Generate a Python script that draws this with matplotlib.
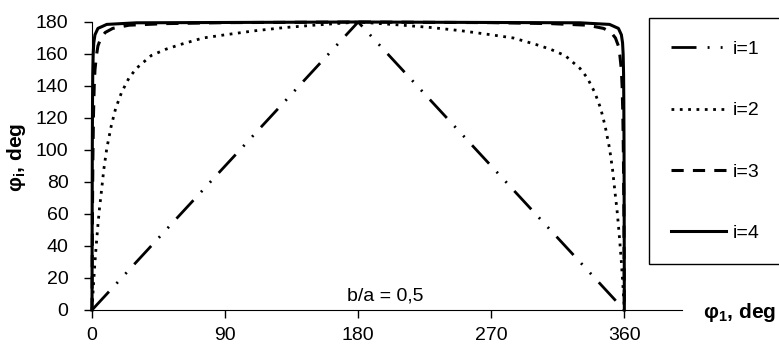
import matplotlib.pyplot as plt

plt.rcParams['font.family'] = ['Liberation Sans', 'DejaVu Sans']
plt.rcParams['font.size'] = 14
plt.rcParams['mathtext.fontset'] = 'custom'
plt.rcParams['mathtext.rm'] = 'Liberation Sans'
plt.rcParams['mathtext.bf'] = 'Liberation Sans:bold'

# i=1: triangle
x1 = [0, 180, 360]
y1 = [0, 180, 0]

# i=2: dotted curve
x2 = [0, 1, 2, 3, 4, 5, 6, 8, 10, 13, 16, 20, 25, 30, 40, 50, 60, 75, 90, 110, 130, 150, 180,
      210, 230, 250, 270, 285, 300, 310, 320, 330, 335, 340, 344, 347, 350, 352, 354, 355, 356, 357, 358, 359, 360]
y2 = [0, 16, 30, 42, 53, 63, 71, 88, 101, 115, 126, 136, 145, 151, 159, 163, 166, 170, 172, 174.5, 176.5, 178, 180,
      178, 176.5, 174.5, 172, 170, 166, 163, 159, 151, 145, 136, 126, 115, 101, 88, 71, 63, 53, 42, 30, 16, 0]

# i=3: dashed curve
x3 = [0, 0.3, 0.6, 1, 1.5, 2, 3, 4, 6, 9, 14, 25, 50, 90, 180,
      270, 310, 335, 346, 351, 354, 356, 357, 358, 358.5, 359, 359.4, 359.7, 360]
y3 = [0, 60, 95, 122, 140, 150, 159, 165, 170, 173.5, 176, 178, 179, 179.6, 180,
      179.6, 179, 178, 176, 173.5, 170, 165, 159, 150, 140, 122, 95, 60, 0]

# i=4: solid curve
x4 = [0, 0.1, 0.2, 0.35, 0.5, 0.8, 1.2, 2, 4, 10, 30, 180,
      330, 350, 356, 358, 358.8, 359.2, 359.5, 359.65, 359.8, 359.9, 360]
y4 = [0, 60, 100, 130, 147, 160, 167, 172, 176, 178.5, 179.5, 180,
      179.5, 178.5, 176, 172, 167, 160, 147, 130, 100, 60, 0]

fig = plt.figure(figsize=(7.79, 3.46), dpi=100)
ax = fig.add_axes([92/779, 36/346, 590/779, 288/346])

ax.plot(x1, y1, color='black', lw=2, linestyle=(0, (9, 4, 0.7, 4, 0.7, 4)), label='i=1', clip_on=False)
ax.plot(x2, y2, color='black', lw=2, linestyle=(0, (1, 2)), label='i=2', clip_on=False)
ax.plot(x3, y3, color='black', lw=2.2, linestyle=(0, (4, 3)), label='i=3', clip_on=False)
ax.plot(x4, y4, color='black', lw=2.2, label='i=4', clip_on=False)

ax.set_xlim(0, 399)
ax.set_ylim(0, 180)
ax.set_xticks([0, 90, 180, 270, 360])
ax.set_yticks(range(0, 181, 20))
ax.spines['top'].set_visible(False)
ax.spines['right'].set_visible(False)
ax.tick_params(axis='y', direction='out', length=6, width=1, pad=11)
ax.tick_params(axis='x', direction='out', length=6, width=1, pad=6)

ax.text(198, 8.7, 'b/a = 0,5', ha='center', va='center')
ax.text(413, -1.5, r'φ$_{\mathbf{1}}$, deg', ha='left', va='center', fontweight='bold', fontsize=15, clip_on=False)
fig.text(17/779, 1 - 157/346, r'φ$_{\mathbf{i}}$, deg', rotation=90, ha='center', va='center',
         fontweight='bold', fontsize=15)

leg = ax.legend(loc='upper left', bbox_to_anchor=(649/779, 81/346, 0.3, 247/346),
                bbox_transform=fig.transFigure, mode='expand', borderaxespad=0,
                fancybox=False, framealpha=1, edgecolor='black',
                handlelength=2.8, handletextpad=0.35, labelspacing=2.25, borderpad=1.15)
leg.get_frame().set_linewidth(1)

fig.savefig('out.png', dpi=100)
